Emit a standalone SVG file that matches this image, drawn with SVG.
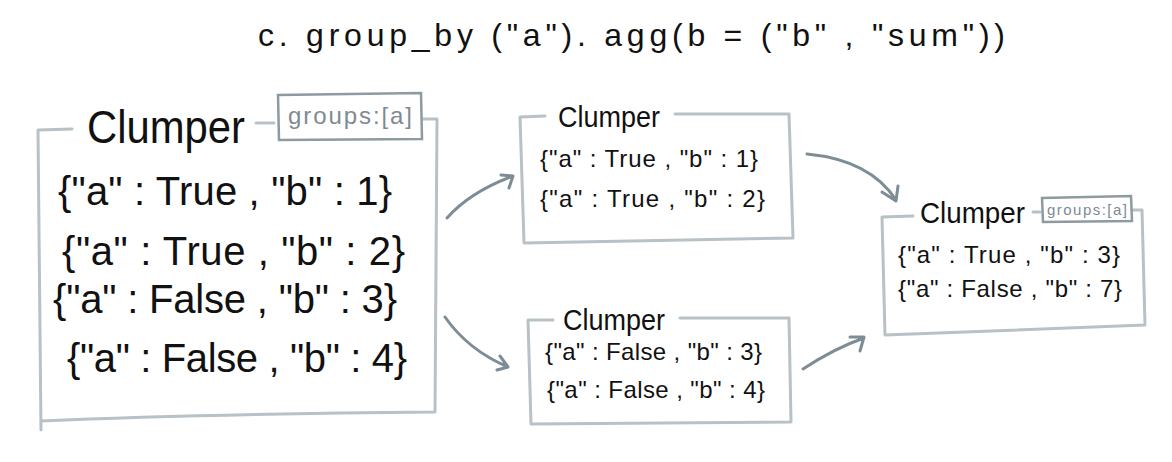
<svg xmlns="http://www.w3.org/2000/svg" width="1172" height="462" viewBox="0 0 1172 462">
<style>
.box{fill:none;stroke:#b7c1c6;stroke-width:3;stroke-linecap:round;stroke-linejoin:round}
.tag{fill:none;stroke:#8e9aa1;stroke-width:2.5}
.arr{fill:none;stroke:#7e8c95;stroke-width:3;stroke-linecap:round;stroke-linejoin:round}
text{font-family:"Liberation Sans","DejaVu Sans",sans-serif;fill:#111}
.g{fill:#7e8a92}
</style>
<rect width="1172" height="462" fill="#fff"/>
<text x="258" y="46" font-size="32" textLength="747" lengthAdjust="spacing">c. group_by ("a"). agg(b = ("b" , "sum"))</text>

<g id="clumper-input">
<path class="box" d="M72,129 L38,130 L41,430 M41,421 Q200,414 435,412 L437,119 L423,119 M256,123 L274,123"/>
<path class="tag" d="M278,95 L421,93 L422,139 L279,140 Z"/>
<text x="87" y="143" font-size="46" textLength="158" lengthAdjust="spacingAndGlyphs">Clumper</text>
<text class="g" x="288" y="124" font-size="24" textLength="124" lengthAdjust="spacing">groups:[a]</text>
<text x="58" y="205" font-size="40" textLength="334" lengthAdjust="spacing">{"a" : True , "b" : 1}</text>
<text x="62" y="265" font-size="40" textLength="343" lengthAdjust="spacing">{"a" : True , "b" : 2}</text>
<text x="53" y="313" font-size="40" textLength="344" lengthAdjust="spacing">{"a" : False , "b" : 3}</text>
<text x="67" y="372" font-size="40" textLength="340" lengthAdjust="spacing">{"a" : False , "b" : 4}</text>
</g>

<g id="clumper-true">
<path class="box" d="M545,116 L520,117 L524,243 L793,238 L789,114 L675,114"/>
<text x="558" y="127" font-size="30" textLength="102" lengthAdjust="spacingAndGlyphs">Clumper</text>
<text x="540" y="167" font-size="24" textLength="218" lengthAdjust="spacing">{"a" : True , "b" : 1}</text>
<text x="540" y="207" font-size="24" textLength="225" lengthAdjust="spacing">{"a" : True , "b" : 2}</text>
</g>

<g id="clumper-false">
<path class="box" d="M553,320 L528,320 L531,424 L791,422 L789,318 L680,318"/>
<text x="563" y="330" font-size="30" textLength="102" lengthAdjust="spacingAndGlyphs">Clumper</text>
<text x="545" y="360" font-size="24" textLength="217" lengthAdjust="spacing">{"a" : False , "b" : 3}</text>
<text x="547" y="398" font-size="24" textLength="218" lengthAdjust="spacing">{"a" : False , "b" : 4}</text>
</g>

<g id="clumper-result">
<path class="box" d="M913,216 L882,217 L885,335 L1145,325 L1142,210 L1133,210 M1033,212 L1040,212"/>
<path class="tag" d="M1042,198 L1131,196 L1132,221 L1043,222 Z" stroke-width="2"/>
<text x="920" y="223" font-size="30" textLength="105" lengthAdjust="spacingAndGlyphs">Clumper</text>
<text class="g" x="1047" y="215" font-size="15" textLength="80" lengthAdjust="spacing">groups:[a]</text>
<text x="898" y="263" font-size="24" textLength="222" lengthAdjust="spacing">{"a" : True , "b" : 3}</text>
<text x="898" y="297" font-size="24" textLength="224" lengthAdjust="spacing">{"a" : False , "b" : 7}</text>
</g>

<g id="connectors">
<path class="arr" d="M447,218 Q470,192 513,176 M501,175 L513,176 L509,188"/>
<path class="arr" d="M445,317 Q468,350 508,367 M500,356 L508,367 L497,370"/>
<path class="arr" d="M807,154 Q870,160 896,200 M882,192 L896,201 L898,186"/>
<path class="arr" d="M803,369 Q835,348 864,338 M850,337 L864,337 L860,351"/>
</g>
</svg>
